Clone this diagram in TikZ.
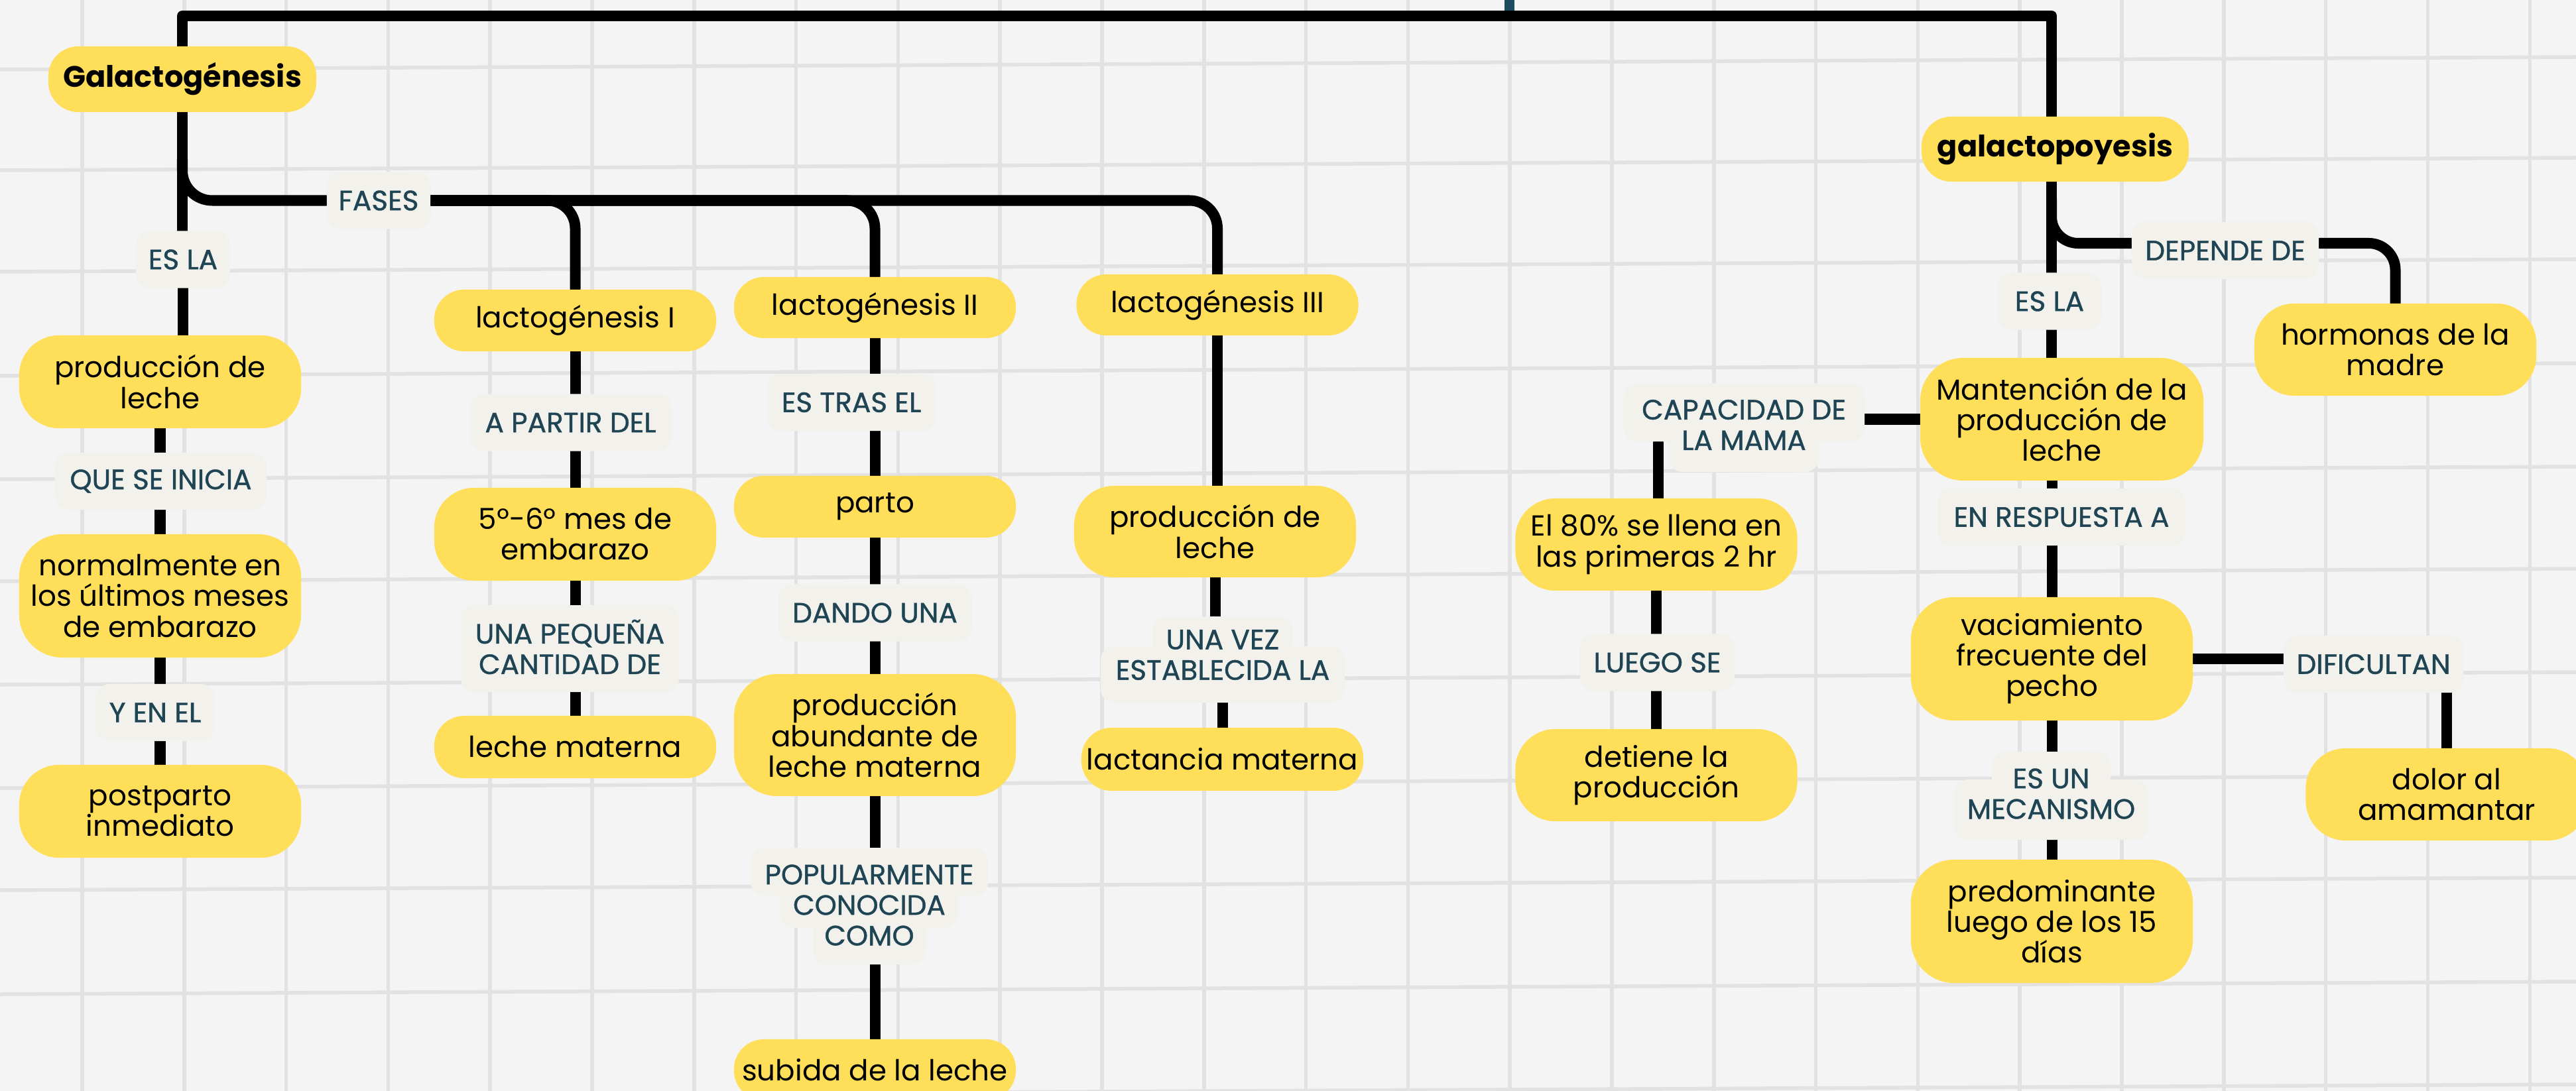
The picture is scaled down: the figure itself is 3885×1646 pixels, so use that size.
\documentclass[tikz,border=0pt]{standalone}
\usepackage{fontspec}
\setmainfont{Poppins}
\newfontfamily\lblfont{Poppins}[FakeBold=1.0]
\usetikzlibrary{calc}
\definecolor{yel}{HTML}{FFDE59}
\definecolor{lblbg}{HTML}{F2F1EC}
\definecolor{lbltx}{HTML}{1F4454}
\definecolor{paper}{HTML}{F4F4F4}
\definecolor{gridc}{HTML}{E2E2E2}
\definecolor{stubc}{HTML}{1E4A5E}
\pgfdeclarelayer{bg}
\pgfdeclarelayer{edges}
\pgfdeclarelayer{boxes}
\pgfsetlayers{bg,edges,boxes,main}
\begin{document}
\begin{tikzpicture}[x=0.01cm,y=-0.01cm,
  ynode/.style={fill=yel, align=center, inner sep=0pt, text=black,
    font=\fontsize{12.4}{13.1}\selectfont, minimum width=4.25cm},
  pill/.style={ynode, rounded corners=0.45cm, minimum height=0.93cm},
  tall/.style={ynode, rounded corners=0.6cm, minimum height=1.39cm},
  big/.style={ynode, rounded corners=0.65cm, minimum height=1.86cm},
  ttl/.style={font=\bfseries\fontsize{12.7}{13.1}\selectfont},
  lbl/.style={fill=lblbg, rounded corners=0.2cm, text=lbltx, inner sep=0pt,
    font=\lblfont\fontsize{12}{13.1}\selectfont, minimum height=0.86cm},
  lbltext/.style={text=lbltx, inner sep=0pt, align=center,
    font=\lblfont\fontsize{12}{13.1}\selectfont},
  lblbox/.style={fill=lblbg, rounded corners=0.2cm},
  conn/.style={draw=black, line width=0.16cm, line cap=round, line join=round},
  gridline/.style={draw=gridc, line width=0.055cm}]

\useasboundingbox (0,0) rectangle (3885,1646);

\begin{pgfonlayer}{bg}
  \fill[paper] (0,0) rectangle (3885,1646);
  \foreach \k in {-1,...,24}
    \draw[gridline] ({124+153.8*\k},0) -- ({124+153.8*\k},1646);
  \foreach \yy in {-50,105,257,410,567,723,877,1033,1189,1343,1500,1655}
    \draw[gridline] (0,\yy) -- (3885,\yy-19);
\end{pgfonlayer}

% ---------- yellow nodes ----------
\node[pill, ttl, minimum width=4.04cm, minimum height=0.99cm] (gal) at (275,119.5) {Galactogénesis};
\node[tall, minimum height=1.40cm] (prod1) at (241.5,576) {producción de\\leche};
\node[big] (norm) at (241.5,899) {normalmente en\\los últimos meses\\de embarazo};
\node[tall, minimum height=1.40cm] (post) at (241.5,1224) {postparto\\inmediato};
\node[pill] (lac1) at (867.5,483.5) {lactogénesis I};
\node[tall, minimum height=1.40cm] (mes) at (867.5,806) {5º-6º mes de\\embarazo};
\node[pill, minimum height=0.94cm] (lm1) at (867.5,1127) {leche materna};
\node[pill, minimum height=0.92cm] (lac2) at (1319.5,464) {lactogénesis II};
\node[pill] (parto) at (1319.5,764.5) {parto};
\node[big, minimum height=1.84cm] (abund) at (1319.5,1109) {producción\\abundante de\\leche materna};
\node[pill, minimum height=0.92cm] (subida) at (1319.5,1614) {subida de la leche};
\node[pill, minimum height=0.92cm] (lac3) at (1836,460) {lactogénesis III};
\node[tall, minimum height=1.38cm] (prod3) at (1832.5,802) {producción de\\leche};
\node[pill, minimum height=0.95cm] (lact) at (1843.5,1145.5) {lactancia materna};
\node[pill, ttl, minimum width=4.03cm, minimum height=0.98cm] (galp) at (3099.5,225) {galactopoyesis};
\node[tall] (horm) at (3612.5,527.5) {hormonas de la\\madre};
\node[big, minimum width=4.27cm, minimum height=1.85cm] (mant) at (3109.5,632.5) {Mantención de la\\producción de\\leche};
\node[tall] (ochenta) at (2498,821.5) {El 80\% se llena en\\las primeras 2 hr};
\node[tall] (det) at (2498,1169.5) {detiene la\\producción};
\node[big] (vac) at (3094.5,994) {vaciamiento\\frecuente del\\pecho};
\node[tall] (dolor) at (3690,1198.5) {dolor al\\amamantar};
\node[big] (pred) at (3094.5,1390) {predominante\\luego de los 15\\días};

% ---------- single-line labels ----------
\node[lbl, minimum width=1.56cm] (fases) at (571,302.5) {FASES};
\node[lbl, minimum width=1.42cm] (esla1) at (276,391.5) {ES LA};
\node[lbl, minimum width=3.19cm] (que) at (242.5,726) {QUE SE INICIA};
\node[lbl, minimum width=1.78cm] (yenel) at (234,1075) {Y EN EL};
\node[lbl, minimum width=3.03cm] (apartir) at (860.5,637.5) {A PARTIR DEL};
\node[lbl, minimum width=2.54cm] (tras) at (1284,607) {ES TRAS EL};
\node[lbl, minimum width=2.91cm] (dando) at (1319.5,924.5) {DANDO UNA};
\node[lbl, minimum width=2.82cm] (depende) at (3356,378) {DEPENDE DE};
\node[lbl, minimum width=1.56cm] (esla2) at (3091,454.5) {ES LA};
\node[lbl, minimum width=3.74cm] (enresp) at (3109,780) {EN RESPUESTA A};
\node[lbl, minimum width=2.33cm] (luego) at (2499.5,999.5) {LUEGO SE};
\node[lbl, minimum width=2.71cm] (dific) at (3579.5,1002) {DIFICULTAN};

% ---------- multi-line labels ----------
\node[lbltext] (pequena) at (859.5,976) {UNA PEQUEÑA\\CANTIDAD DE};
\node[lbltext] (capac) at (2630,641) {CAPACIDAD DE\\LA MAMA};
\node[lbltext] (popular) at (1311,1365.5) {POPULARMENTE\\CONOCIDA\\COMO};
\node[lbltext] (unavez) at (1844,988) {UNA VEZ\\ESTABLECIDA LA};
\node[lbltext] (esun) at (3093.5,1197.5) {ES UN\\MECANISMO};

\begin{pgfonlayer}{boxes}
  \fill[lblbox] (695,913) rectangle (1024,1044);
  \fill[lblbox] (2449,578) rectangle (2812,666);
  \fill[lblbox] (2517,623) rectangle (2743,712);
  \fill[lblbox] (1132,1279) rectangle (1490,1351);
  \fill[lblbox] (1176,1330) rectangle (1444,1400);
  \fill[lblbox] (1226,1380) rectangle (1396,1455);
  \fill[lblbox] (1738,930) rectangle (1950,1005);
  \fill[lblbox] (1660,975) rectangle (2028,1060);
  \fill[lblbox] (3004,1134) rectangle (3183,1215);
  \fill[lblbox] (2947,1176) rectangle (3240,1267);
\end{pgfonlayer}

% ---------- connectors ----------
\coordinate (topL) at (275,24);
\coordinate (topR) at (3094,24);
\coordinate (stubA) at (2276,-10);
\coordinate (stubB) at (2276,24);
\coordinate (tapF) at (275,240);
\coordinate (tapD) at (3094,300);
\coordinate (capacR) at (2812,632.5);
\coordinate (capacD) at (2501,668);

\begin{pgfonlayer}{edges}
  \draw[stubc, line width=0.15cm] (stubA) -- (stubB);
  \draw[conn] (gal.north) -- (topL) -- (topR) -- (topR |- galp.north);
  % left column
  \draw[conn] (gal.south) -- (gal.south |- esla1.north);
  \draw[conn] (esla1.south) -- (esla1.south |- prod1.north);
  \draw[conn, rounded corners=0.45cm] (tapF) |- (fases.west);
  \draw[conn, rounded corners=0.42cm] (fases.east) -| (lac1.north);
  \draw[conn, rounded corners=0.42cm] (fases.east) -| (lac2.north);
  \draw[conn, rounded corners=0.42cm] (fases.east) -| (lac3.north);
  \draw[conn] (prod1.south) -- (prod1.south |- que.north);
  \draw[conn] (que.south -| norm) -- (norm.north);
  \draw[conn] (norm.south) -- (norm.south |- yenel.north);
  \draw[conn] (yenel.south -| post) -- (post.north);
  % lactogenesis I
  \draw[conn] (lac1.south) -- (lac1.south |- apartir.north);
  \draw[conn] (apartir.south -| mes) -- (mes.north);
  \draw[conn] (mes.south) -- (mes.south |- pequena.north);
  \draw[conn] (pequena.south -| lm1) -- (lm1.north);
  % lactogenesis II
  \draw[conn] (lac2.south) -- (lac2.south |- tras.north);
  \draw[conn] (tras.south -| parto) -- (parto.north);
  \draw[conn] (parto.south) -- (parto.south |- dando.north);
  \draw[conn] (dando.south -| abund) -- (abund.north);
  \draw[conn] (abund.south) -- (abund.south |- popular.north);
  \draw[conn] (popular.south -| subida) -- (subida.north);
  % lactogenesis III
  \draw[conn] (lac3.south) -- (lac3.south |- prod3.north);
  \draw[conn] (prod3.south) -- (prod3.south |- unavez.north);
  \draw[conn] (unavez.south -| lact) -- (lact.north);
  % galactopoyesis
  \draw[conn] (galp.south -| tapD) -- (esla2.north -| tapD);
  \draw[conn] (esla2.south -| tapD) -- (mant.north -| tapD);
  \draw[conn, rounded corners=0.4cm] (tapD) |- ($(depende.west)+(0,-11)$);
  \draw[conn, rounded corners=0.4cm] ($(depende.east)+(0,-11)$) -| (horm.north);
  \draw[conn] (capacR) -- (mant.west);
  \draw[conn] (capacD) -- (capacD |- ochenta.north);
  \draw[conn] (ochenta.south) -- (ochenta.south |- luego.north);
  \draw[conn] (luego.south -| det) -- (det.north);
  \draw[conn] (mant.south -| vac) -- (enresp.north -| vac);
  \draw[conn] (enresp.south -| vac) -- (vac.north);
  \draw[conn] (vac.east) -- (vac.east -| dific.west);
  \draw[conn] (dific.south -| dolor) -- (dolor.north);
  \draw[conn] (vac.south) -- (vac.south |- esun.north);
  \draw[conn] (esun.south -| pred) -- (pred.north);
\end{pgfonlayer}
\end{tikzpicture}
\end{document}
